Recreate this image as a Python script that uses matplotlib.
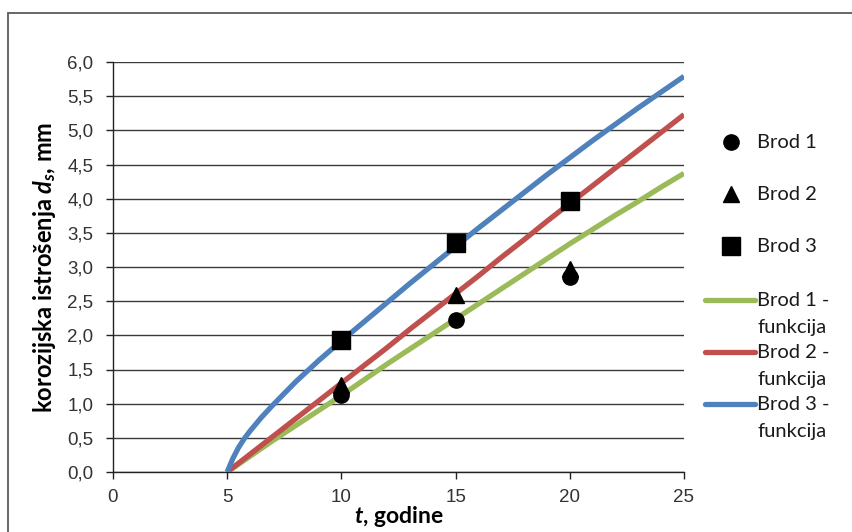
import matplotlib
matplotlib.use('Agg')
import matplotlib.pyplot as plt
from matplotlib.patches import Rectangle
from matplotlib.lines import Line2D
from matplotlib.ticker import FuncFormatter, MultipleLocator

# izmjerene vrijednosti (t, godine)
t_mj = [10, 15, 20]
brod1 = [1.13, 2.23, 2.86]
brod2 = [1.27, 2.59, 2.97]
brod3 = [1.93, 3.35, 3.97]

# funkcije ocitane sa slike
t_fun = [5, 5.25, 5.5, 5.75, 6, 6.5, 7, 8, 9, 10, 11, 12, 13, 14, 15, 16, 17, 18, 19, 20, 21, 22, 23, 24, 25]
fun1 = [0, 0.057, 0.115, 0.172, 0.23, 0.345, 0.46, 0.68, 0.9, 1.12, 1.35, 1.58, 1.8, 2.02, 2.24,
        2.46, 2.68, 2.9, 3.12, 3.34, 3.55, 3.76, 3.96, 4.17, 4.37]
fun2 = [0, 0.065, 0.13, 0.195, 0.26, 0.39, 0.52, 0.78, 1.04, 1.3, 1.56, 1.82, 2.09, 2.35, 2.61,
        2.87, 3.14, 3.4, 3.67, 3.93, 4.19, 4.45, 4.71, 4.97, 5.23]
fun3 = [0, 0.2, 0.36, 0.49, 0.6, 0.8, 0.98, 1.32, 1.63, 1.92, 2.2, 2.48, 2.76, 3.03, 3.3,
        3.57, 3.83, 4.09, 4.35, 4.6, 4.85, 5.09, 5.33, 5.56, 5.79]

zelena = '#9BBB59'
crvena = '#C0504D'
plava = '#4F81BD'

plt.rcParams['mathtext.fontset'] = 'custom'
plt.rcParams['mathtext.it'] = 'Lato:bold:italic'
plt.rcParams['mathtext.rm'] = 'Lato:bold'

W, H = 852, 532
fig = plt.figure(figsize=(W / 100, H / 100), dpi=100)
ax = fig.add_axes([113 / W, 1 - 472 / H, (684 - 113) / W, (472 - 62) / H])

# okvir grafikona
fig.patches.append(Rectangle((8 / W, -0.1), 1.5, 1 - 13 / H + 0.1, transform=fig.transFigure,
                             fill=False, edgecolor='#5a5a5a', linewidth=1.3))

ax.plot(t_fun, fun1, color=zelena, lw=3.8, solid_capstyle='butt', solid_joinstyle='round', zorder=3)
ax.plot(t_fun, fun2, color=crvena, lw=3.8, solid_capstyle='butt', solid_joinstyle='round', zorder=3)
ax.plot(t_fun, fun3, color=plava, lw=3.8, solid_capstyle='butt', solid_joinstyle='round', zorder=3)

ax.plot(t_mj, brod1, 'o', color='black', ms=11, zorder=5)
ax.plot(t_mj, brod2, '^', color='black', ms=11, zorder=5)
ax.plot(t_mj, brod3, 's', color='black', ms=12.5, zorder=5)

ax.set_xlim(0, 25)
ax.set_ylim(0, 6)
ax.xaxis.set_major_locator(MultipleLocator(5))
ax.yaxis.set_major_locator(MultipleLocator(0.5))
ax.yaxis.set_major_formatter(FuncFormatter(lambda v, p: f'{v:.1f}'.replace('.', ',')))
ax.grid(axis='y', color='#3a3a3a', lw=1.0)
ax.set_axisbelow(True)
for s in ['top', 'right']:
    ax.spines[s].set_visible(False)
for s in ['left', 'bottom']:
    ax.spines[s].set_color('#222222')
    ax.spines[s].set_linewidth(1.0)
ax.tick_params(direction='out', length=5, width=1, color='#222222',
               labelsize=13.5, labelcolor='#333333')
ax.tick_params(axis='x', pad=7)
ax.tick_params(axis='y', pad=9)
for lab in ax.get_xticklabels() + ax.get_yticklabels():
    lab.set_family('Liberation Sans')

ax.set_xlabel('$t$, godine', fontfamily='Lato', fontweight='bold', fontsize=16.5, labelpad=-1)
ax.set_ylabel('korozijska istrošenja $d_s$, mm', fontfamily='Lato', fontweight='bold',
              fontsize=17, labelpad=7)

# legenda
def fx(px):
    return px / W

def fy(py):
    return 1 - py / H

tekst = dict(fontfamily='Lato', fontsize=14.5, color='#1a1a1a', va='center', ha='left')
for mk, ms, py, lab in [('o', 11, 142, 'Brod 1'), ('^', 11, 194, 'Brod 2'), ('s', 12.5, 246, 'Brod 3')]:
    fig.add_artist(Line2D([fx(731)], [fy(py)], marker=mk, ms=ms, color='black', transform=fig.transFigure))
    fig.text(fx(757), fy(py), lab, **tekst)
for boja, py, lab in [(zelena, 300, 'Brod 1 -'), (crvena, 352, 'Brod 2 -'), (plava, 404, 'Brod 3 -')]:
    fig.add_artist(Line2D([fx(705), fx(755)], [fy(py), fy(py)], color=boja, lw=3.8,
                          solid_capstyle='round', transform=fig.transFigure))
    fig.text(fx(757), fy(py), lab, **tekst)
    fig.text(fx(757), fy(py + 28), 'funkcija', **tekst)

fig.savefig('out.png', dpi=100)
